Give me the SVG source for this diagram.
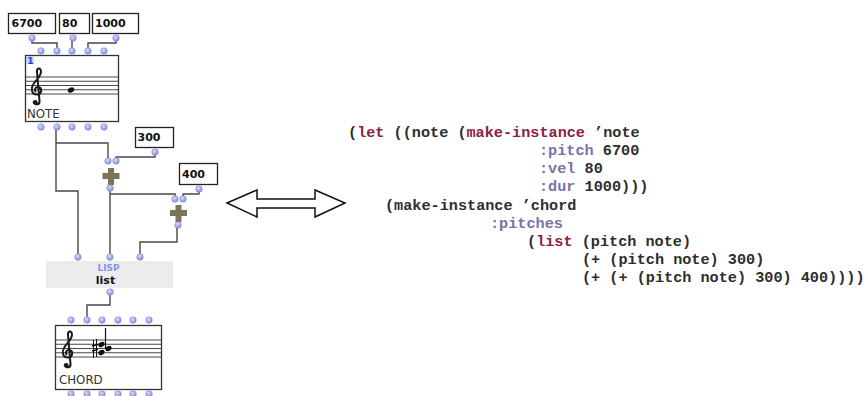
<svg xmlns="http://www.w3.org/2000/svg" width="867" height="396" viewBox="0 0 867 396">
<style>
.bg{fill:#ffffff}
.wire{fill:none;stroke:#474747;stroke-width:1.4}
.port{fill:url(#pg);stroke:#7f87d4;stroke-width:0.5}
.numbox{fill:#ffffff;stroke:#222;stroke-width:1.3}
.num{font-family:"DejaVu Sans",sans-serif;font-weight:bold;font-size:11px;fill:#111}
.box{fill:#ffffff;stroke:#333;stroke-width:1.3}
.staff{stroke:#333;stroke-width:0.9}
.lbl{font-family:"DejaVu Sans",sans-serif;font-size:11.8px;fill:#333}
.plus{fill:#7b7657}
.code{font-family:"Liberation Mono","Courier New",monospace;font-weight:bold;font-size:15.2px;fill:#2e2e2e}
.kw{fill:#7a72a8}
.fn{fill:#8a2244}
.clef{fill:none;stroke:#1a1a1a;stroke-width:2;stroke-linecap:round}
</style>
<defs>
<radialGradient id="pg" cx="40%" cy="35%" r="65%">
<stop offset="0" stop-color="#d8dbff"/>
<stop offset="1" stop-color="#858ddc"/>
</radialGradient>
<g id="clefshape">
<path class="clef" d="M3,25 C4,28.5 9,28 8.5,24 L6,-5 C5.6,-9 9.5,-10 10,-6 C10.5,-1 5,3 2.5,7 C-0.5,11.5 0.5,17.5 6,17.5 C11,17.5 11.5,11 7.5,10 C4.5,9.5 3,12.5 4.5,14.5"/>
<circle cx="4.2" cy="25.3" r="2.4" fill="#1a1a1a"/>
</g>
</defs>
<rect class="bg" x="0" y="0" width="867" height="396"/>

<g id="connectors">
<path class="wire" d="M32,38 V43 H57 V51"/>
<path class="wire" d="M72,38 V51"/>
<path class="wire" d="M116,38 V43 H88 V51"/>
<path class="wire" d="M56,127 V143 H108 V161"/>
<path class="wire" d="M56,143 V191 H78 V257"/>
<path class="wire" d="M155,152 V157 H116 V161"/>
<path class="wire" d="M110,188 V257"/>
<path class="wire" d="M110,194 H175 V199"/>
<path class="wire" d="M199,189 V194 H183 V199"/>
<path class="wire" d="M177,225 V242 H140 V257"/>
<path class="wire" d="M110,292 V305 H87 V320"/>
</g>

<g id="num6700">
<rect class="numbox" x="8.5" y="13.5" width="47" height="20"/>
<text class="num" x="11.5" y="27">6700</text>
<circle class="port" cx="32" cy="38" r="3.3"/>
</g>
<g id="num80">
<rect class="numbox" x="59.5" y="13.5" width="30" height="20"/>
<text class="num" x="62" y="27">80</text>
<circle class="port" cx="73" cy="38" r="3.3"/>
</g>
<g id="num1000">
<rect class="numbox" x="92.5" y="13.5" width="46" height="20"/>
<text class="num" x="95" y="27">1000</text>
<circle class="port" cx="116" cy="38" r="3.3"/>
</g>

<g id="note">
<rect class="box" x="25.5" y="55.5" width="93" height="66"/>
<rect x="26" y="56" width="8" height="8" fill="#c9d3ea"/>
<text x="27.2" y="63.5" font-family="DejaVu Sans,sans-serif" font-weight="bold" font-size="9px" fill="#1f3fe0">1</text>
<g class="staff">
<line x1="26" y1="77" x2="118" y2="77"/>
<line x1="26" y1="81.25" x2="118" y2="81.25"/>
<line x1="26" y1="85.5" x2="118" y2="85.5"/>
<line x1="26" y1="89.75" x2="118" y2="89.75"/>
<line x1="26" y1="94" x2="118" y2="94"/>
</g>
<use href="#clefshape" transform="translate(31,77)"/>
<ellipse cx="71" cy="90" rx="3.4" ry="2.5" transform="rotate(-25 71 90)" fill="#111"/>
<text class="lbl" x="27" y="118">NOTE</text>
<circle class="port" cx="41" cy="51" r="3.3"/>
<circle class="port" cx="57" cy="51" r="3.3"/>
<circle class="port" cx="72" cy="51" r="3.3"/>
<circle class="port" cx="88" cy="51" r="3.3"/>
<circle class="port" cx="104" cy="51" r="3.3"/>
<circle class="port" cx="41" cy="127" r="3.3"/>
<circle class="port" cx="57" cy="127" r="3.3"/>
<circle class="port" cx="72" cy="127" r="3.3"/>
<circle class="port" cx="88" cy="127" r="3.3"/>
<circle class="port" cx="104" cy="127" r="3.3"/>
</g>

<g id="num300">
<rect class="numbox" x="135.5" y="127.5" width="38" height="20"/>
<text class="num" x="137.5" y="141">300</text>
<circle class="port" cx="155" cy="152" r="3.3"/>
</g>

<g id="plus1">
<rect class="plus" x="108" y="168" width="6" height="17"/>
<rect class="plus" x="102.5" y="173" width="17" height="6"/>
<circle class="port" cx="108" cy="161" r="3.3"/>
<circle class="port" cx="116" cy="161" r="3.3"/>
<circle class="port" cx="110" cy="188" r="3.3"/>
</g>

<g id="num400">
<rect class="numbox" x="179.5" y="163.5" width="38" height="21"/>
<text class="num" x="182" y="177.7">400</text>
<circle class="port" cx="199" cy="189" r="3.3"/>
</g>

<g id="plus2">
<rect class="plus" x="175.5" y="205" width="6" height="17"/>
<rect class="plus" x="170" y="210" width="17" height="6"/>
<circle class="port" cx="175" cy="199" r="3.3"/>
<circle class="port" cx="183" cy="199" r="3.3"/>
<circle class="port" cx="178" cy="225" r="3.3"/>
</g>

<g id="lisplist">
<rect x="46" y="261" width="127" height="27" fill="#ececec"/>
<text x="108.5" y="270.7" text-anchor="middle" font-family="DejaVu Sans,sans-serif" font-weight="bold" font-size="9px" fill="#8a8ff2">LISP</text>
<text x="105.5" y="284" text-anchor="middle" font-family="DejaVu Sans,sans-serif" font-weight="bold" font-size="11px" fill="#111">list</text>
<circle class="port" cx="78" cy="257" r="3.3"/>
<circle class="port" cx="110" cy="257" r="3.3"/>
<circle class="port" cx="140" cy="257" r="3.3"/>
<circle class="port" cx="110" cy="292" r="3.3"/>
</g>

<g id="chord">
<rect class="box" x="55.5" y="325.5" width="106" height="64"/>
<g class="staff">
<line x1="56" y1="340" x2="161" y2="340"/>
<line x1="56" y1="344.25" x2="161" y2="344.25"/>
<line x1="56" y1="348.5" x2="161" y2="348.5"/>
<line x1="56" y1="352.75" x2="161" y2="352.75"/>
<line x1="56" y1="357" x2="161" y2="357"/>
</g>
<use href="#clefshape" transform="translate(62,340)"/>
<g stroke="#111" stroke-width="1">
<line x1="93.5" y1="340" x2="93.5" y2="358"/>
<line x1="96.5" y1="339" x2="96.5" y2="357"/>
<line x1="92" y1="346" x2="98" y2="344.5" stroke-width="1.6"/>
<line x1="92" y1="351" x2="98" y2="349.5" stroke-width="1.6"/>
<line x1="105.5" y1="328" x2="105.5" y2="349" stroke-width="1.2"/>
</g>
<ellipse cx="101.5" cy="344.5" rx="3.3" ry="2.4" transform="rotate(-25 101.5 344.5)" fill="#111"/>
<ellipse cx="108.5" cy="348.5" rx="3.3" ry="2.4" transform="rotate(-25 108.5 348.5)" fill="#111"/>
<ellipse cx="101.5" cy="352.5" rx="3.3" ry="2.4" transform="rotate(-25 101.5 352.5)" fill="#111"/>
<text class="lbl" x="59" y="384">CHORD</text>
<circle class="port" cx="71" cy="320" r="3.3"/>
<circle class="port" cx="87" cy="320" r="3.3"/>
<circle class="port" cx="102" cy="320" r="3.3"/>
<circle class="port" cx="118" cy="320" r="3.3"/>
<circle class="port" cx="133" cy="320" r="3.3"/>
<circle class="port" cx="149" cy="320" r="3.3"/>
<circle class="port" cx="71" cy="394" r="3.3"/>
<circle class="port" cx="87" cy="394" r="3.3"/>
<circle class="port" cx="102" cy="394" r="3.3"/>
<circle class="port" cx="118" cy="394" r="3.3"/>
<circle class="port" cx="133" cy="394" r="3.3"/>
<circle class="port" cx="149" cy="394" r="3.3"/>
</g>

<g id="doublearrow">
<polygon points="227,203 257,190 257,199 315,199 315,190 345,203 315,217 315,208 257,208 257,217" fill="#ffffff" stroke="#111" stroke-width="1.5" stroke-linejoin="miter"/>
</g>

<g id="code">
<text class="code" x="348" y="136.7">(<tspan class="fn">let</tspan> ((note (<tspan class="fn">make-instance</tspan> ’note</text>
<text class="code" x="539" y="154.9"><tspan class="kw">:pitch</tspan> 6700</text>
<text class="code" x="539" y="173.1"><tspan class="kw">:vel</tspan> 80</text>
<text class="code" x="539" y="191.3"><tspan class="kw">:dur</tspan> 1000)))</text>
<text class="code" x="385" y="209.5">(make-instance ’chord</text>
<text class="code" x="490" y="227.7"><tspan class="kw">:pitches</tspan></text>
<text class="code" x="527" y="245.9">(<tspan class="fn">list</tspan> (pitch note)</text>
<text class="code" x="582" y="264.1">(+ (pitch note) 300)</text>
<text class="code" x="582" y="282.3">(+ (+ (pitch note) 300) 400))))</text>
</g>
</svg>
